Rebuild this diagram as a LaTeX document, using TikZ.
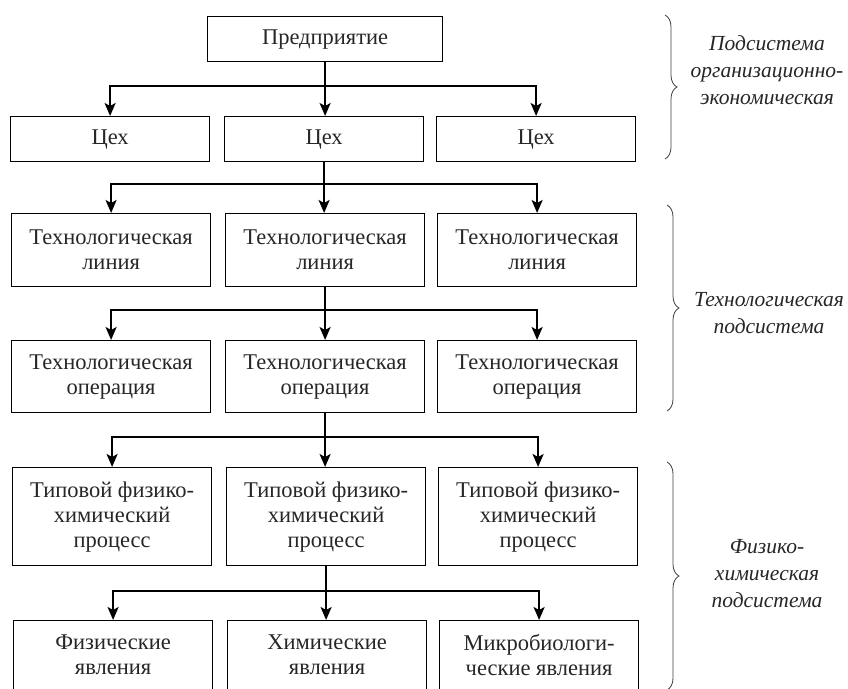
\documentclass[tikz,border=0pt]{standalone}
\usepackage{fontspec}
\setmainfont{Liberation Serif}
\usetikzlibrary{decorations.pathreplacing,arrows.meta}

\begin{document}
\begin{tikzpicture}[x=1pt,y=-1pt,
  box/.style={draw, line width=1.2pt, inner sep=0pt, align=center,
    anchor=north west, minimum width=199pt, text=black!85,
    font=\fontsize{22.5}{25}\selectfont},
  link/.style={line width=1.9pt},
  arr/.style={link, -{Stealth[length=13pt,width=11pt,inset=3pt]}},
  brc/.style={decorate, decoration={brace, amplitude=12pt},
    line width=0.8pt, black!75},
  lbl/.style={align=center, text=black!85,
    font=\fontsize{21.5}{27}\selectfont\itshape}]

\useasboundingbox (0,0) rectangle (848,688);
\clip (0,0) rectangle (848,688);

% level 0
\node[box, minimum width=235pt, minimum height=45pt] (ent) at (207,16) {Предприятие};

% level 1: workshops
\node[box, minimum height=45pt] (w1) at (10,116) {Цех};
\node[box, minimum height=45pt] (w2) at (224,116) {Цех};
\node[box, minimum height=45pt] (w3) at (436,116) {Цех};

% level 2: process lines
\node[box, minimum height=73pt] (l1) at (11,213) {Технологическая\\линия};
\node[box, minimum height=73pt] (l2) at (225,213) {Технологическая\\линия};
\node[box, minimum height=73pt] (l3) at (437,213) {Технологическая\\линия};

% level 3: operations
\node[box, minimum height=72pt] (o1) at (11,340) {Технологическая\\операция};
\node[box, minimum height=72pt] (o2) at (225,340) {Технологическая\\операция};
\node[box, minimum height=72pt] (o3) at (437,340) {Технологическая\\операция};

% level 4: unit processes
\node[box, minimum height=98pt] (p1) at (12,467) {Типовой физико-\\химический\\процесс};
\node[box, minimum height=98pt] (p2) at (226,467) {Типовой физико-\\химический\\процесс};
\node[box, minimum height=98pt] (p3) at (438,467) {Типовой физико-\\химический\\процесс};

% level 5: phenomena (run past the lower edge)
\node[box, minimum height=80pt, text depth=12pt] (f1) at (13,620) {Физические\\явления};
\node[box, minimum height=80pt, text depth=12pt] (f2) at (227,620) {Химические\\явления};
\node[box, minimum height=80pt, text depth=12pt] (f3) at (439,620) {Микробиологи-\\ческие явления};

% junction points on the distribution bars
\coordinate (j1) at (ent.south |- 0,86);
\coordinate (j2) at (w2.south |- 0,184);
\coordinate (j3) at (l2.south |- 0,310);
\coordinate (j4) at (o2.south |- 0,437);
\coordinate (j5) at (p2.south |- 0,591);

% connectors
\draw[link] (ent.south) -- (j1);
\draw[arr] (j1) -| (w1.north);
\draw[arr] (j1) -| (w3.north);
\draw[arr] (j1) -- (j1 |- w2.north);

\draw[link] (w2.south) -- (j2);
\draw[arr] (j2) -| (l1.north);
\draw[arr] (j2) -| (l3.north);
\draw[arr] (j2) -- (j2 |- l2.north);

\draw[link] (l2.south) -- (j3);
\draw[arr] (j3) -| (o1.north);
\draw[arr] (j3) -| (o3.north);
\draw[arr] (j3) -- (j3 |- o2.north);

\draw[link] (o2.south) -- (j4);
\draw[arr] (j4) -| (p1.north);
\draw[arr] (j4) -| (p3.north);
\draw[arr] (j4) -- (j4 |- p2.north);

\draw[link] (p2.south) -- (j5);
\draw[arr] (j5) -| (f1.north);
\draw[arr] (j5) -| (f3.north);
\draw[arr] (j5) -- (j5 |- f2.north);

% subsystem braces and captions
\coordinate (b1t) at (665,15);  \coordinate (b1b) at (665,159);
\coordinate (b2t) at (667,205); \coordinate (b2b) at (667,411);
\coordinate (b3t) at (667,462); \coordinate (b3b) at (667,690);
\draw[brc] (b1t) -- (b1b);
\draw[brc] (b2t) -- (b2b);
\draw[brc] (b3t) -- (b3b);

\node[lbl] (s1) at (767,70) {Подсистема\\организационно-\\экономическая};
\node[lbl] (s2) at (769,313) {Технологическая\\подсистема};
\node[lbl] (s3) at (767,574) {Физико-\\химическая\\подсистема};
\end{tikzpicture}
\end{document}
